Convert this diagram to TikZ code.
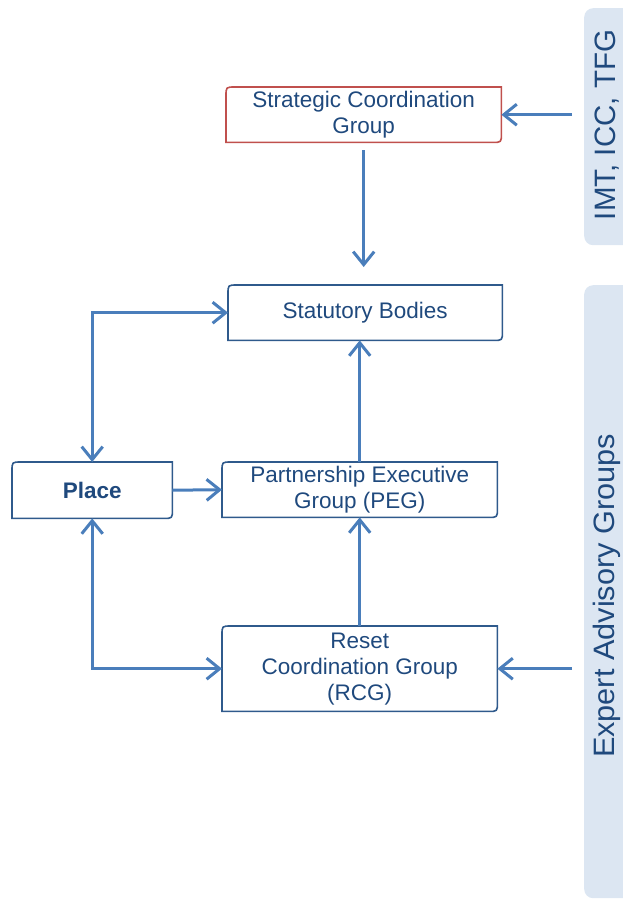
\documentclass[tikz,border=0pt]{standalone}
\usepackage{fontspec}
\setmainfont{Liberation Sans}
\usetikzlibrary{arrows.meta,calc}
\definecolor{arrblue}{HTML}{4A7EBB}
\definecolor{boxblue}{HTML}{2F5A8C}
\definecolor{txtblue}{HTML}{1F497D}
\definecolor{panelfill}{HTML}{DCE6F2}
\definecolor{boxred}{HTML}{C0504D}
\newcommand{\diagbox}[2]{%
  \draw[line width=1.6pt,#2] (#1.south west) -- ([yshift=-9pt]#1.north west) .. controls (#1.north west) .. ([xshift=9pt]#1.north west) -- (#1.north east) -- ([yshift=9pt]#1.south east) .. controls (#1.south east) .. ([xshift=-9pt]#1.south east) -- cycle;}
\tikzset{
  bx/.style={anchor=north west,inner sep=0pt,align=center,text=txtblue,font=\fontsize{22.5}{26}\selectfont},
  tip/.tip={Straight Barb[length=13pt,width=21pt,line width=3pt]},
  arr/.style={line width=3pt,draw=arrblue,-tip},
  barr/.style={line width=3pt,draw=arrblue,tip-tip},
  panel/.style={anchor=north west,fill=panelfill,rounded corners=9pt,inner sep=0pt},
  ptext/.style={rotate=90,text=txtblue,inner sep=0pt,font=\fontsize{29.5}{34}\selectfont}
}
\begin{document}
\begin{tikzpicture}[x=1pt,y=-1pt]
\useasboundingbox (0,0) rectangle (623,900);
% side panels
\node[panel,minimum width=60pt,minimum height=237pt] (p1) at (584,8) {};
\node[panel,minimum width=60pt,minimum height=613pt] (p2) at (584,285) {};
\node[ptext] (p1t) at (607,125) {IMT, ICC, TFG};
\node[ptext] (p2t) at (607,596) {\scalebox{1.04}[1]{Expert Advisory Groups}};
% boxes
\node[bx,minimum width=275pt,minimum height=55pt] (scg) at (226,87) {Strategic Coordination\\Group};
\node[bx,minimum width=274pt,minimum height=55pt] (stat) at (228,285) {Statutory Bodies};
\node[bx,minimum width=160pt,minimum height=56pt,font=\fontsize{22.5}{26}\selectfont\bfseries] (place) at (12,462) {Place};
\node[bx,minimum width=275pt,minimum height=55pt] (peg) at (222,462) {Partnership Executive\\Group (PEG)};
\node[bx,minimum width=275pt,minimum height=85pt] (rcg) at (222,626) {Reset\\Coordination Group\\(RCG)};
\diagbox{scg}{boxred}
\diagbox{stat}{boxblue}
\diagbox{place}{boxblue}
\diagbox{peg}{boxblue}
\diagbox{rcg}{boxblue}
% arrows
\draw[arr] ([xshift=-12pt]p1.west |- scg.east) -- (scg.east);
\draw[arr,shorten <=8pt,shorten >=18pt] (scg.south) -- (scg.south |- stat.north);
\draw[barr] (place.north) |- (stat.west);
\draw[arr] (place.east) -- (peg.west);
\draw[arr] (peg.north) -- (peg.north |- stat.south);
\draw[arr] (rcg.north) -- (peg.south);
\draw[barr] (rcg.west) -| (place.south);
\draw[arr] ([xshift=-12pt]p2.west |- rcg.east) -- (rcg.east);
\end{tikzpicture}
\end{document}
